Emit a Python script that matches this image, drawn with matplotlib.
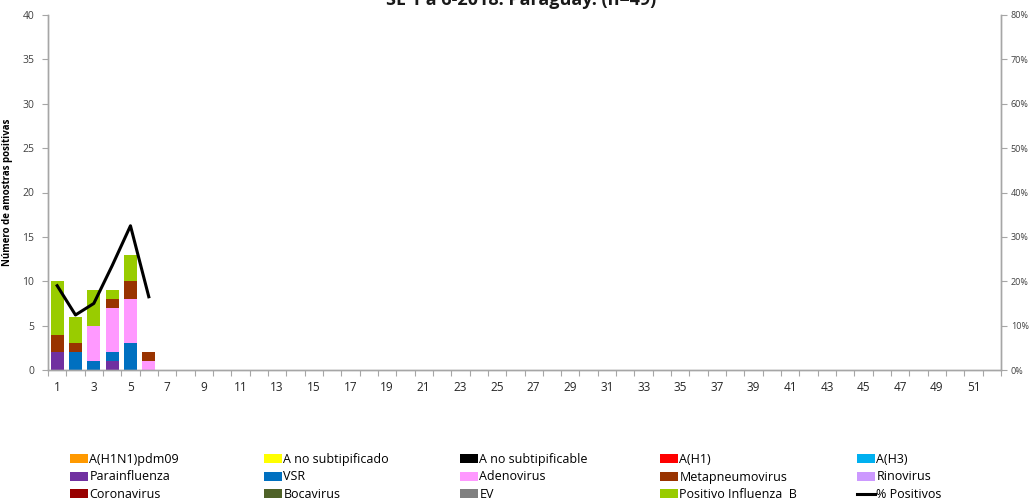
import matplotlib
matplotlib.use("Agg")
import matplotlib.pyplot as plt
from matplotlib.patches import Patch
from matplotlib.lines import Line2D
from matplotlib.ticker import FixedLocator, FuncFormatter
import numpy as np

plt.rcParams['font.family'] = ['Open Sans', 'DejaVu Sans']

weeks = np.arange(1, 53)

series_names = [
    "A(H1N1)pdm09", "A no subtipificado", "A no subtipificable", "A(H1)", "A(H3)",
    "Parainfluenza", "VSR", "Adenovirus", "Metapneumovirus", "Rinovirus",
    "Coronavirus", "Bocavirus", "EV", "Positivo Influenza  B",
]
series_colors = [
    "#FF9900", "#FFFF00", "#000000", "#FF0000", "#00B0F0",
    "#7030A0", "#0070C0", "#FF99FF", "#993300", "#CC99FF",
    "#990000", "#4F6228", "#808080", "#99CC00",
]

# counts per epidemiological week (SE 1-6)
parainfluenza = [2, 0, 0, 1, 0, 0]
vsr = [0, 2, 1, 1, 3, 0]
adenovirus = [0, 0, 4, 5, 5, 1]
metapneumovirus = [2, 1, 0, 1, 2, 1]
influenza_b = [6, 3, 4, 1, 3, 0]
pct_positivos = [19.0, 12.4, 15.0, 23.5, 32.5, 16.5]

n_obs = len(pct_positivos)
zeros = [0] * n_obs
series_values = [
    zeros, zeros, zeros, zeros, zeros,
    parainfluenza, vsr, adenovirus, metapneumovirus, zeros,
    zeros, zeros, zeros, influenza_b,
]

fig = plt.figure(figsize=(10.32, 5.04), dpi=100)
ax = fig.add_axes([48 / 1032, 1 - 370 / 504, (1001 - 48) / 1032, (370 - 15) / 504])
ax2 = ax.twinx()

x = weeks[:n_obs]
bottom = np.zeros(n_obs)
for name, color, vals in zip(series_names, series_colors, series_values):
    vals = np.array(vals, dtype=float)
    ax.bar(x, vals, width=0.72, bottom=bottom, color=color, linewidth=0, zorder=2)
    bottom += vals

ax2.plot(x, pct_positivos, color="black", lw=2.2, zorder=3)

ax.set_xlim(0.5, 52.5)
ax.set_ylim(0, 40)
ax2.set_ylim(0, 80)

spine_c = "#A6A6A6"
for a in (ax, ax2):
    a.spines["top"].set_visible(False)
    for s in ("left", "right", "bottom"):
        a.spines[s].set_color(spine_c)
        a.spines[s].set_linewidth(1.0)

ax.set_yticks(np.arange(0, 41, 5))
ax.tick_params(axis="y", labelsize=7.5, colors=spine_c, labelcolor="#404040", length=4, width=0.8, pad=6)
ax2.set_yticks(np.arange(0, 81, 10))
ax2.yaxis.set_major_formatter(FuncFormatter(lambda v, p: f"{int(v)}%"))
ax2.tick_params(axis="y", labelsize=6.5, colors=spine_c, labelcolor="#404040", length=4, width=0.8, pad=3)

ax.set_xticks(weeks[::2])
ax.set_xticklabels([str(w) for w in weeks[::2]])
ax.xaxis.set_minor_locator(FixedLocator(np.arange(0.5, 53, 1)))
ax.tick_params(axis="x", which="major", length=0, labelsize=8.5, labelcolor="#262626", pad=8)
ax.tick_params(axis="x", which="minor", length=4, color=spine_c, width=0.8)

ax.set_ylabel("Número de amostras positivas", fontsize=7, fontweight="bold", labelpad=6)
ax.yaxis.set_label_coords(-0.037, 0.5)

fig.text(0.505, 1.0, "SE 1 a 6-2018. Paraguay. (n=49)", ha="center", va="center",
         fontsize=13, fontweight="bold", color="#1a1a1a")

# legend: 5 columns of 3 rows, filled row by row
handles = [Patch(facecolor=c, edgecolor="none") for c in series_colors]
handles.append(Line2D([0], [0], color="black", lw=2.2))
labels = series_names + ["% Positivos"]
col_x = [70, 264, 460, 660, 857]
for c in range(5):
    hs = [handles[r * 5 + c] for r in range(3)]
    ls = [labels[r * 5 + c] for r in range(3)]
    fig.legend(hs, ls, loc="upper left", bbox_to_anchor=(col_x[c] / 1032, 1 - 453 / 504),
               frameon=False, fontsize=9, handlelength=1.4, handleheight=0.75,
               handletextpad=0.15, labelspacing=0.36, borderpad=0, borderaxespad=0)

fig.savefig("out.png", dpi=100)
